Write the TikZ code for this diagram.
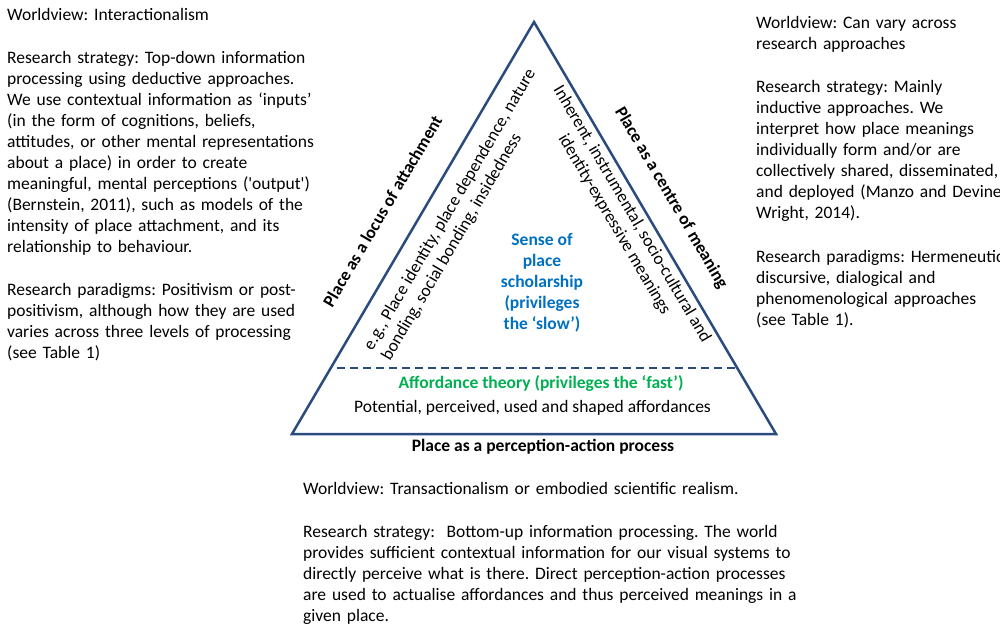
\documentclass[tikz,border=0pt]{standalone}
\usepackage{fontspec}
\setmainfont{Carlito}
\frenchspacing
\definecolor{tri}{HTML}{2B4B7E}
\definecolor{sblue}{HTML}{0070C0}
\definecolor{agreen}{HTML}{00B050}
\begin{document}
\frenchspacing
\begin{tikzpicture}[x=1pt,y=-1pt,
  txt/.style={inner sep=0pt, font=\fontsize{17.5}{21}\selectfont, align=left, text width=440pt, anchor=base west},
  sidelabel/.style={inner sep=0pt, font=\fontsize{17.5}{21}\selectfont\bfseries},
  innertxt/.style={inner sep=0pt, font=\fontsize{17.5}{20.5}\selectfont},
  triline/.style={draw=tri, line width=2.5pt, line join=miter},
  dashline/.style={draw=tri, line width=2.5pt, dash pattern=on 8pt off 5pt}]
\useasboundingbox (0,0) rectangle (1000,632);
% triangle
\coordinate (A) at (534,22);
\coordinate (L) at (292,434);
\coordinate (R) at (776,434);
\draw[triline] (A) -- (L) -- (R) -- cycle;
\coordinate (dl) at (337,368);
\coordinate (dr) at (737,368);
\draw[dashline] (dl) -- (dr);
% left block
\node[txt] (lw) at (7,20) {Worldview: Interactionalism};
\node[txt] (ls) at (7,63) {Research strategy: Top-down information\\processing using deductive approaches.\\We use contextual information as `inputs'\\(in the form of cognitions, beliefs,\\attitudes, or other mental representations\\about a place) in order to create\\meaningful, mental perceptions (\textquotesingle output\textquotesingle)\\(Bernstein, 2011), such as models of the\\intensity of place attachment, and its\\relationship to behaviour.};
\node[txt] (lp) at (7,295) {Research paradigms: Positivism or post-\\positivism, although how they are used\\varies across three levels of processing\\(see Table 1)};
% right block
\node[txt] (rw) at (756,28) {Worldview: Can vary across\\research approaches};
\node[txt] (rs) at (756,92) {Research strategy: Mainly\\inductive approaches. We\\interpret how place meanings\\individually form and/or are\\collectively shared, disseminated,\\and deployed (Manzo and Devine-\\Wright, 2014).};
\node[txt] (rp) at (756,262) {Research paradigms: Hermeneutic,\\discursive, dialogical and\\phenomenological approaches\\(see Table 1).};
% bottom block
\node[txt, text width=560pt] (bw) at (303,494) {Worldview: Transactionalism or embodied scientific realism.};
\node[txt, text width=560pt] (bs) at (303,537) {Research strategy:\ \ Bottom-up information processing. The world\\provides sufficient contextual information for our visual systems to\\directly perceive what is there. Direct perception-action processes\\are used to actualise affordances and thus perceived meanings in a\\given place.};
% side labels
\node[sidelabel, rotate=59.57] (ll) at (382.5,211) {Place as a locus of attachment};
\node[sidelabel, rotate=-59.57] (rl) at (671,198) {Place as a centre of meaning};
\node[sidelabel, anchor=base] (bl) at (543,451) {Place as a perception-action process};
% inner rotated texts
\node[innertxt, rotate=59.57, align=left] (li) at (459,215) {e.g., Place identity, place dependence, nature\\bonding, social bonding, insidedness};
\node[innertxt, rotate=-59.57, align=center] (ri) at (623,219.5) {Inherent, instrumental, socio-cultural and\\identity-expressive meanings};
% centre texts
\node[sidelabel, text=sblue, align=center] (sp) at (542,282.5) {Sense of\\place\\scholarship\\(privileges\\the `slow')};
\node[sidelabel, text=agreen, anchor=base] (af) at (541,388) {Affordance theory (privileges the `fast')};
\node[innertxt, anchor=base] (pot) at (532.5,412) {Potential, perceived, used and shaped affordances};
\end{tikzpicture}
\end{document}
